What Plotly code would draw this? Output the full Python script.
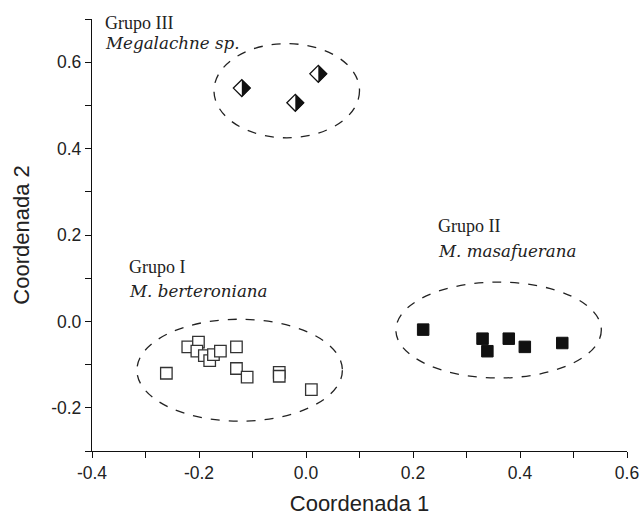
import plotly.graph_objects as go

# ---- data ----
g1_x = [-0.261, -0.221, -0.201, -0.204, -0.190, -0.180, -0.173, -0.160, -0.130, -0.130, -0.110, -0.050, -0.050, 0.010]
g1_y = [-0.120, -0.059, -0.048, -0.069, -0.079, -0.091, -0.077, -0.069, -0.059, -0.109, -0.129, -0.118, -0.127, -0.158]
g2_x = [0.219, 0.330, 0.339, 0.379, 0.409, 0.479]
g2_y = [-0.019, -0.040, -0.069, -0.040, -0.059, -0.050]
g3_x = [-0.120, 0.023, -0.020]
g3_y = [0.540, 0.573, 0.506]

# ellipses: center x, center y, radius x, radius y (Grupo I, II, III)
ell_cx = [-0.124, 0.360, -0.036]
ell_cy = [-0.113, -0.020, 0.534]
ell_rx = [0.192, 0.192, 0.136]
ell_ry = [0.118, 0.111, 0.109]

labels_group = ["Grupo I", "Grupo II", "Grupo III"]
labels_species = ["M. berteroniana", "M. masafuerana", "Megalachne sp."]
label_x = [-0.335, 0.243, -0.380]
group_y = [0.126, 0.221, 0.691]
species_y = [0.070, 0.163, 0.645]

x_ticks = [-0.4, -0.2, 0.0, 0.2, 0.4, 0.6]
x_ticktext = ["-0.4", "-0.2", "0.0", "0.2", "0.4", "0.6"]
y_ticks = [-0.2, 0.0, 0.2, 0.4, 0.6]
y_ticktext = ["-0.2", "0.0", "0.2", "0.4", "0.6"]

fig = go.Figure()

fig.add_trace(go.Scatter(
    x=g1_x, y=g1_y, mode="markers",
    marker=dict(symbol="square", size=11.5, color="white",
                line=dict(color="#333333", width=1.3)),
    showlegend=False, cliponaxis=False))
fig.add_trace(go.Scatter(
    x=g2_x, y=g2_y, mode="markers",
    marker=dict(symbol="square", size=11.5, color="#111111",
                line=dict(color="#111111", width=1)),
    showlegend=False, cliponaxis=False))
fig.add_trace(go.Scatter(
    x=g3_x, y=g3_y, mode="markers",
    marker=dict(symbol="diamond", size=13, color="white",
                line=dict(color="#111111", width=1.3)),
    showlegend=False, cliponaxis=False))

shapes = []
for cx, cy, rx, ry in zip(ell_cx, ell_cy, ell_rx, ell_ry):
    shapes.append(dict(type="circle", xref="x", yref="y",
                       x0=cx - rx, x1=cx + rx, y0=cy - ry, y1=cy + ry,
                       line=dict(color="#222222", width=1.3, dash="dash"),
                       layer="below"))
h = 8.9
for x, y in zip(g3_x, g3_y):
    shapes.append(dict(type="path", xref="x", yref="y",
                       xsizemode="pixel", ysizemode="pixel",
                       xanchor=x, yanchor=y,
                       path=f"M 0,{-h} L {h},0 L 0,{h} Z",
                       fillcolor="#111111", line=dict(width=0),
                       layer="above"))

annotations = []
for gx, gy, sy, gname, sname in zip(label_x, group_y, species_y, labels_group, labels_species):
    annotations.append(dict(
        x=gx, y=gy, xref="x", yref="y", xanchor="left", yanchor="middle",
        showarrow=False, align="left", text=gname,
        font=dict(family="Liberation Serif", size=18, color="#222222")))
    annotations.append(dict(
        x=gx, y=sy, xref="x", yref="y", xanchor="left", yanchor="middle",
        showarrow=False, align="left", text=f"<i>{sname}</i>",
        font=dict(family="DejaVu Serif", size=16.7, color="#222222")))

axis_common = dict(
    showline=True, linecolor="#111111", linewidth=1.3,
    ticks="outside", ticklen=6, tickwidth=1.3, tickcolor="#111111",
    minor=dict(dtick=0.1, ticks="outside", ticklen=6, tickwidth=1.3, tickcolor="#111111"),
    showgrid=False, zeroline=False, automargin=False,
    tickfont=dict(family="Liberation Sans", size=17.5, color="#222222"),
)

fig.update_layout(
    width=642, height=516,
    margin=dict(l=92, r=15, t=19, b=65),
    plot_bgcolor="white", paper_bgcolor="white",
    shapes=shapes, annotations=annotations,
    xaxis=dict(range=[-0.4, 0.6], tickvals=x_ticks, ticktext=x_ticktext,
               title=dict(text="Coordenada 1", standoff=14,
                          font=dict(family="Liberation Sans", size=22, color="#222222")),
               **axis_common),
    yaxis=dict(range=[-0.3, 0.7], tickvals=y_ticks, ticktext=y_ticktext,
               title=dict(text="Coordenada 2", standoff=15,
                          font=dict(family="Liberation Sans", size=22, color="#222222")),
               **axis_common),
)

# remove the default page margin so the 642x516 figure fills the window exactly
fig.write_html(
    "out.html",
    config={"displayModeBar": False},
    post_script="document.body.style.margin='0';document.body.style.overflow='hidden';",
)
